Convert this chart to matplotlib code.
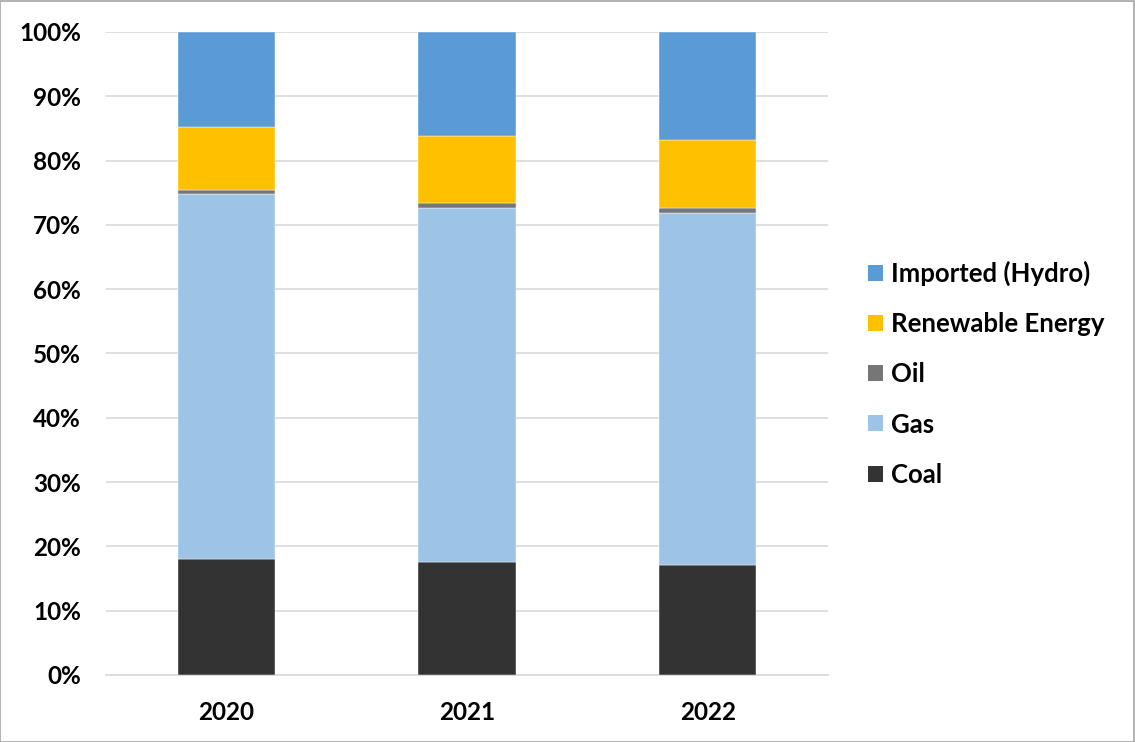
import numpy as np
import matplotlib.pyplot as plt
from matplotlib.patches import Patch

# ---- Data (share of generation, %) ----
years = ["2020", "2021", "2022"]
coal = [18.1, 17.6, 17.1]
gas = [56.7, 55.1, 54.7]
oil = [0.6, 0.7, 0.9]
renewable = [9.9, 10.4, 10.5]
imported = [14.7, 16.2, 16.8]

series_names = ["Coal", "Gas", "Oil", "Renewable Energy", "Imported (Hydro)"]
series_vals = [coal, gas, oil, renewable, imported]
colors = ["#333333", "#9DC3E6", "#767676", "#FFC000", "#5B9BD5"]

plt.rcParams["font.family"] = ["Lato", "DejaVu Sans"]
plt.rcParams["font.weight"] = "bold"

fig = plt.figure(figsize=(11.35, 7.42), dpi=100)
ax = fig.add_axes([0.0934, 0.0903, 0.6361, 0.8666])

x = np.arange(len(years))
bottom = np.zeros(len(years))
for name, vals, col in zip(series_names, series_vals, colors):
    ax.bar(x, vals, width=0.405, bottom=bottom, color=col, label=name,
           edgecolor="white", linewidth=0.3, zorder=3)
    bottom += np.array(vals)

ax.set_xlim(-0.5, 2.5)
ax.set_ylim(0, 100)
ax.set_yticks(np.arange(0, 101, 10))
ax.set_yticklabels([f"{v}%" for v in range(0, 101, 10)])
ax.set_xticks(x)
ax.set_xticklabels(years)
ax.tick_params(axis="y", length=0, pad=18, labelsize=17.5)
ax.tick_params(axis="x", length=0, pad=19, labelsize=17.5)
for lbl in ax.get_xticklabels() + ax.get_yticklabels():
    lbl.set_fontweight("bold")

ax.grid(axis="y", color="#d9d9d9", linewidth=1.2, zorder=0)
for side in ["top", "right", "left"]:
    ax.spines[side].set_visible(False)
ax.spines["bottom"].set_color("#d9d9d9")
ax.spines["bottom"].set_linewidth(1.2)

# legend, top entry first like the original
handles = [Patch(facecolor=c) for c in colors][::-1]
fig.legend(handles, series_names[::-1], loc="upper left",
           bbox_to_anchor=(0.7445, 0.68), frameon=False,
           prop={"weight": "bold", "size": 18.5},
           handlelength=0.58, handleheight=0.58, handletextpad=0.3,
           labelspacing=1.02)

# thin grey frame around the whole picture
fig.patches.append(plt.Rectangle((0.0, 0.0), 0.999, 0.998, transform=fig.transFigure,
                                 fill=False, edgecolor="#a6a6a6", linewidth=1.2))

fig.savefig("out.png", dpi=100)
